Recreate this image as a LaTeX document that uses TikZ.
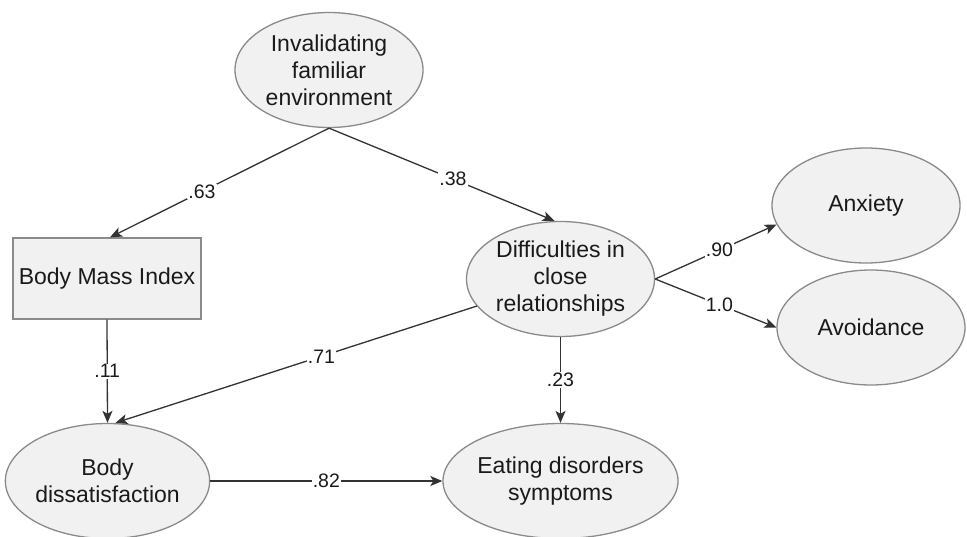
\documentclass[tikz,border=0pt]{standalone}
\usepackage{fontspec}
\setmainfont{Liberation Sans}
\usetikzlibrary{arrows.meta,shapes.geometric,calc}
\definecolor{nodefill}{HTML}{F1F1F1}
\definecolor{nodeborder}{HTML}{8A8A8A}
\definecolor{edgecol}{HTML}{333333}
\definecolor{txt}{HTML}{1A1A1A}
\begin{document}
\begin{tikzpicture}[x=1pt,y=-1pt,
  latent/.style={ellipse, draw=nodeborder, fill=nodefill, line width=1.3pt,
    minimum width=188pt, minimum height=115pt, inner sep=0pt, align=center,
    text=txt, font=\fontsize{23}{27}\selectfont},
  observed/.style={rectangle, draw=nodeborder, fill=nodefill, line width=1.3pt,
    minimum width=188pt, minimum height=81pt, inner sep=0pt, align=center,
    text=txt, font=\fontsize{23}{27}\selectfont},
  arr/.style={draw=edgecol, line width=1.3pt, -{Stealth[length=12pt,width=10pt,inset=3pt]}},
  coef/.style={fill=white, inner sep=1pt, text=txt, font=\fontsize{19.5}{22}\selectfont}]
\useasboundingbox[fill=white] (0,0) rectangle (967,536);
\node[latent] (inv) at (329,70) {Invalidating\\familiar\\environment};
\node[observed] (bmi) at (107,278.5) {Body Mass Index};
\node[latent] (diff) at (560.5,279) {Difficulties in\\close\\relationships};
\node[latent] (anx) at (866,205.5) {Anxiety};
\node[latent] (avo) at (871,327.5) {Avoidance};
\node[latent] (bd) at (107.5,481) {Body\\dissatisfaction};
\node[latent] (ed) at (560.5,481) {Eating disorders\\symptoms};

\draw[arr] (inv.south) -- node[coef,pos=0.58]{.63} ([xshift=3pt]bmi.north);
\draw[arr] (inv.south) -- node[coef,pos=0.55]{.38} ([xshift=-6pt]diff.north);
\draw[arr] (diff.east) -- node[coef,pos=0.53]{.90} (anx.192);
\draw[arr] (diff.east) -- node[coef,pos=0.53]{1.0} (avo.west);
\draw[arr] (bmi.south) -- node[coef]{.11} (bd.north);
\draw[arr] (diff) -- node[coef,pos=0.43]{.71} ([xshift=8pt]bd.north);
\draw[arr] (diff.south) -- node[coef]{.23} (ed.north);
\draw[arr] (bd.east) -- node[coef]{.82} (ed.west);
\end{tikzpicture}
\end{document}
